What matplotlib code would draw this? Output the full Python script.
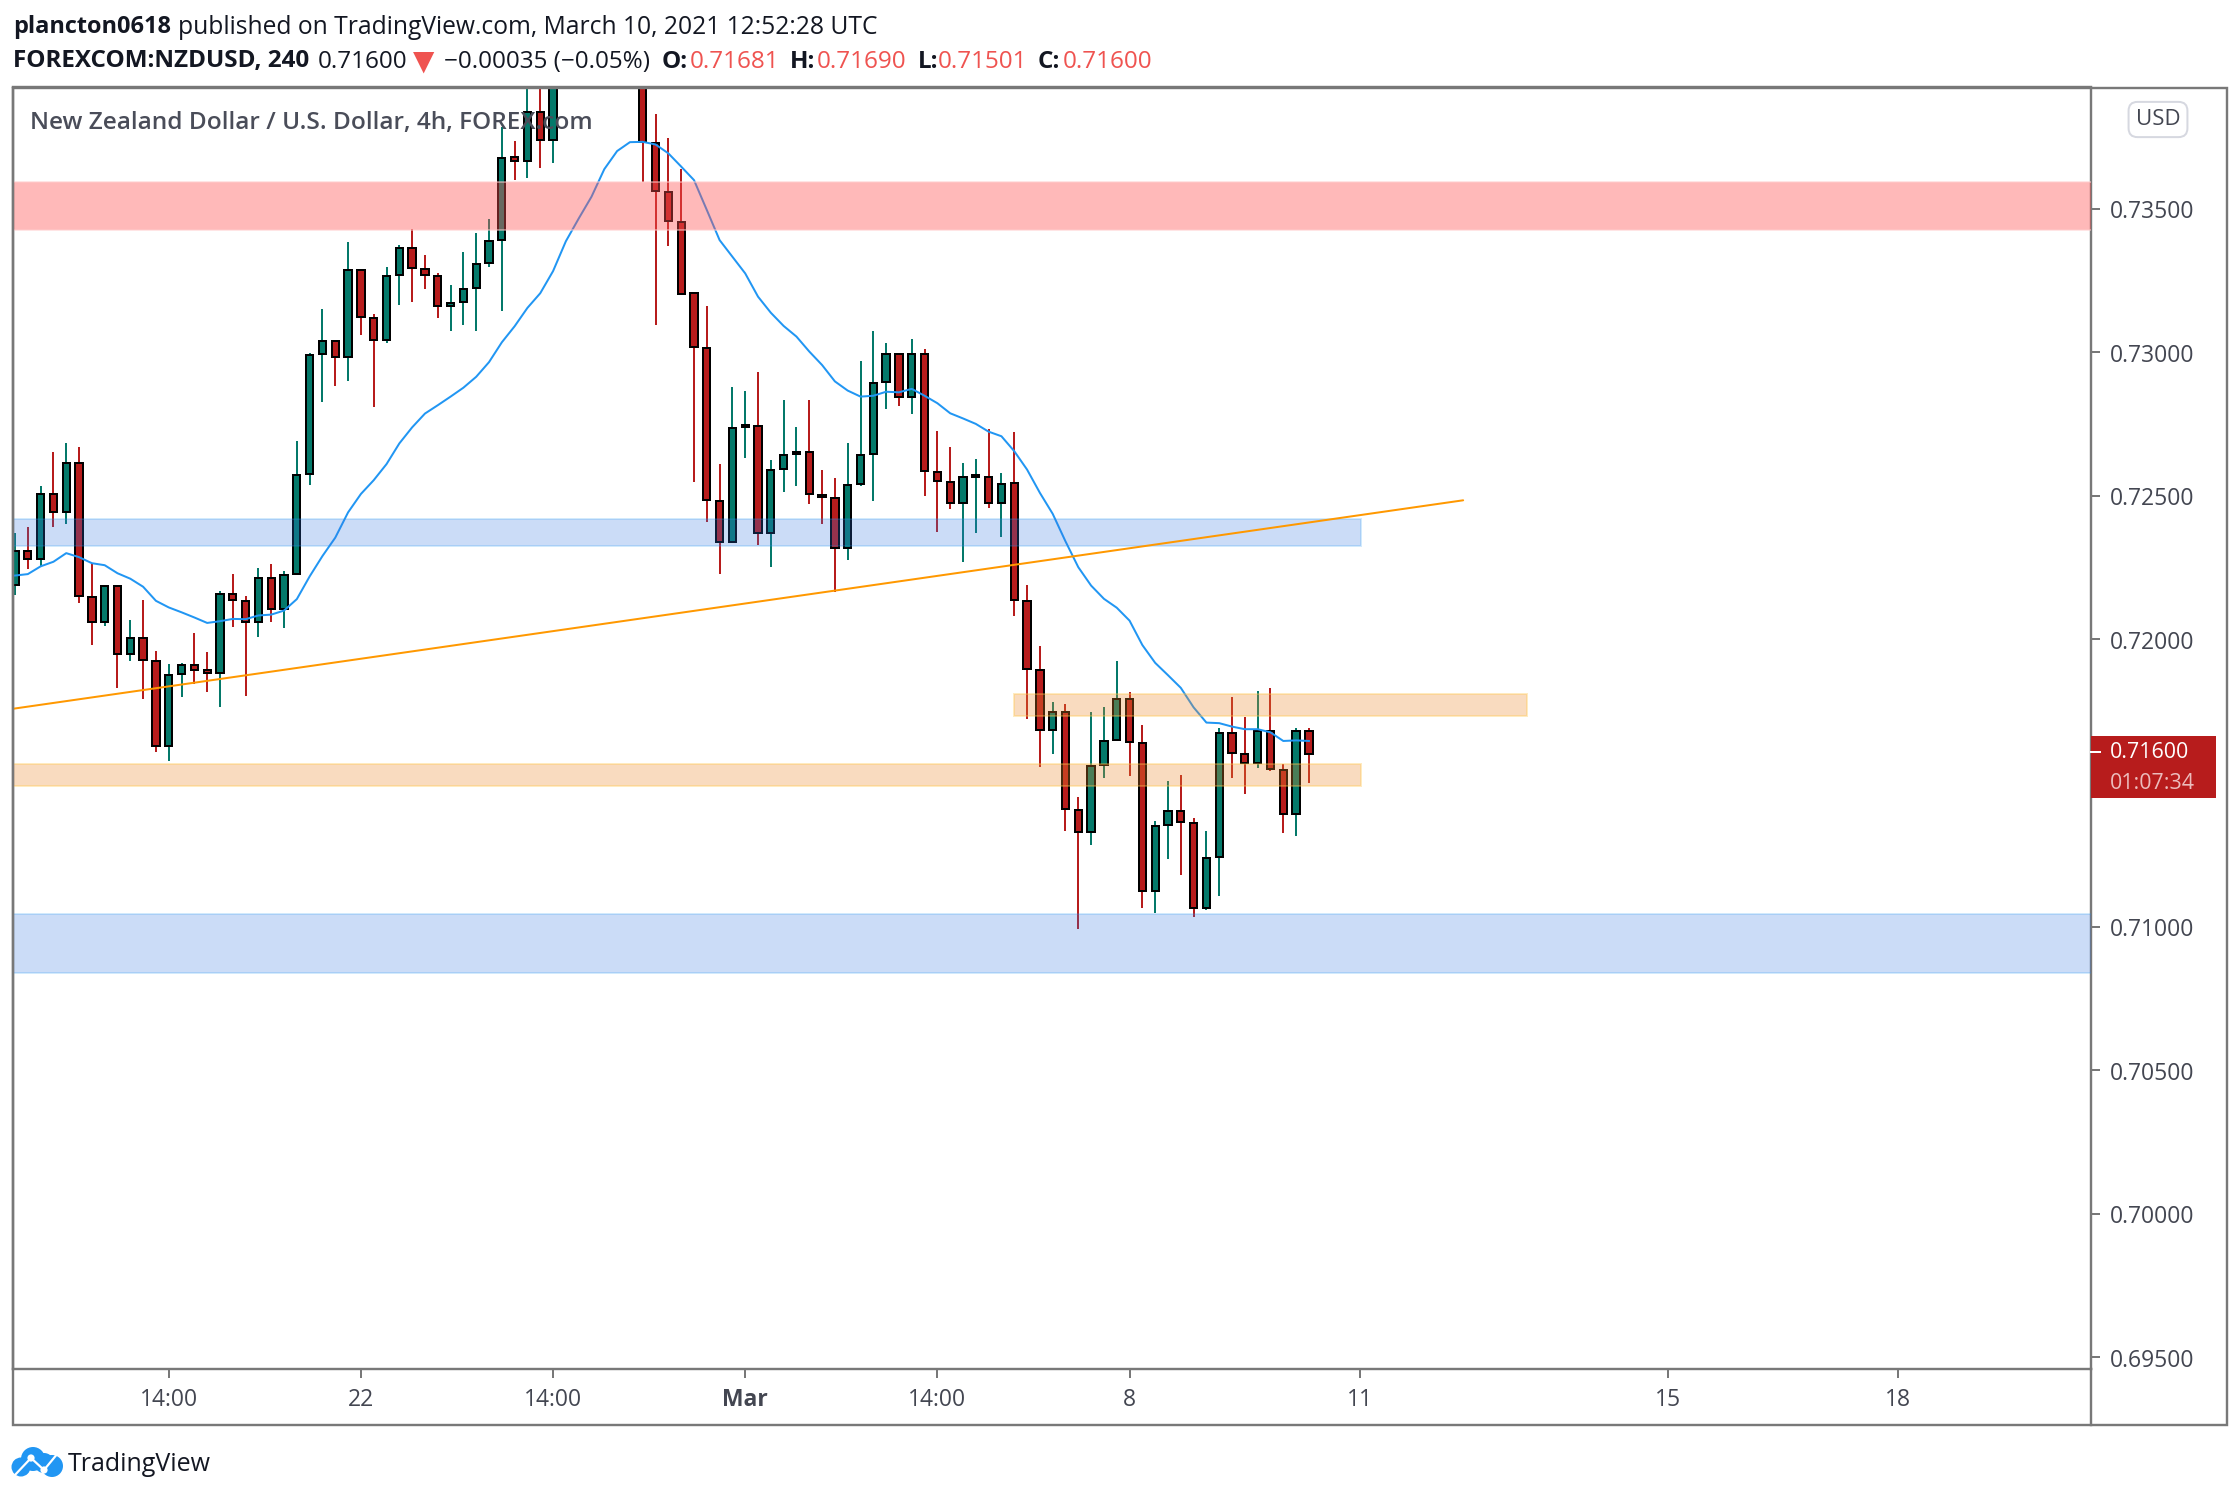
#!/usr/bin/python3

from matplotlib import pyplot as plt
from matplotlib.lines import Line2D
from matplotlib.patches import Circle, Rectangle
from matplotlib.transforms import IdentityTransform, ScaledTranslation
import numpy as np

W, H = 2240, 1498
nan = float('nan')

# OHLC per 4h candle. 43-48 run off the top of the chart.
opens = [.72190, .72306, .72278, .72506, .72442, .72615, .72148, .72060, .72186, .71948,
         .72004, .71924, .71629, .71880, .71912, .71892, .71883, .72158, .72134, .72060,
         .72214, .72105, .72228, .72575, .72994, .73039, .72983, .73286, .73119, .73042,
         .73270, .73363, .73290, .73266, .73160, .73175, .73222, .73310, .73390, .73678,
         .73665, .73836, .73739, nan, nan, nan, nan, nan, nan, .74000,
         .73728, .73558, .73453, .73205, .73015, .72483, .72338, .72738, .72744, .72369,
         .72592, .72644, .72653, .72504, .72493, .72317, .72540, .72644, .72895, .72995,
         .72844, .72995, .72584, .72549, .72473, .72564, .72566, .72473, .72543, .72134,
         .71893, .71684, .71747, .71406, .71329, .71562, .71648, .71793, .71640, .71122,
         .71352, .71403, .71361, .71063, .71241, .71674, .71602, .71568, .71679, .71545,
         .71391, .71681]
highs = [.72370, .72390, .72535, .72653, .72685, .72671, .72266, .72186, .72186, .72067,
         .72138, .71961, .71913, .71916, .72022, .71955, .72169, .72227, .72151, .72247,
         .72262, .72239, .72690, .72997, .73149, .73039, .73382, .73286, .73133, .73298,
         .73373, .73430, .73338, .73277, .73234, .73350, .73416, .73465, .73785, .73736,
         .73960, .73960, .74050, nan, nan, nan, nan, nan, nan, .74050,
         .73828, .73745, .73637, .73205, .73161, .72610, .72878, .72865, .72931, .72624,
         .72833, .72739, .72833, .72590, .72562, .72682, .72969, .73074, .73032, .72995,
         .73046, .73011, .72725, .72670, .72613, .72628, .72732, .72579, .72722, .72188,
         .71976, .71782, .71776, .71451, .71746, .71763, .71925, .71815, .71702, .71366,
         .71506, .71527, .71377, .71333, .71690, .71800, .71728, .71820, .71830, .71566,
         .71690, .71690]
lows = [.72155, .72246, .72255, .72390, .72402, .72127, .71979, .72047, .71830, .71923,
        .71792, .71608, .71576, .71798, .71843, .71817, .71763, .72044, .71803, .72007,
        .72060, .72038, .72228, .72538, .72826, .72882, .72901, .73058, .72810, .73031,
        .73165, .73175, .73218, .73117, .73072, .73095, .73075, .73298, .73144, .73600,
        .73606, .73641, .73660, nan, nan, nan, nan, nan, nan, .73593,
        .73095, .73370, .73202, .72549, .72410, .72227, .72338, .72631, .72328, .72253,
        .72513, .72534, .72471, .72401, .72166, .72276, .72534, .72482, .72802, .72812,
        .72784, .72499, .72375, .72454, .72269, .72370, .72457, .72356, .72081, .71724,
        .71556, .71600, .71333, .70992, .71283, .71518, .71648, .71524, .71065, .71047,
        .71235, .71179, .71033, .71058, .71106, .71518, .71461, .71552, .71541, .71326,
        .71315, .71501]
closes = [.72306, .72278, .72506, .72442, .72615, .72151, .72060, .72186, .71948, .72004,
          .71929, .71629, .71876, .71912, .71892, .71883, .72158, .72137, .72060, .72214,
          .72105, .72225, .72572, .72991, .73039, .72983, .73286, .73122, .73042, .73266,
          .73363, .73293, .73269, .73162, .73171, .73219, .73307, .73387, .73677, .73665,
          .73836, .73739, .73980, nan, nan, nan, nan, nan, nan, .73732,
          .73561, .73456, .73203, .73018, .72485, .72338, .72737, .72745, .72369, .72591,
          .72643, .72653, .72505, .72494, .72317, .72538, .72643, .72894, .72995, .72844,
          .72995, .72585, .72551, .72473, .72566, .72571, .72473, .72542, .72136, .71896,
          .71684, .71747, .71409, .71330, .71560, .71647, .71793, .71641, .71122, .71351,
          .71403, .71363, .71063, .71239, .71674, .71603, .71568, .71679, .71548, .71391,
          .71681, .71600]
ema = [.72222, .72227, .72254, .72270, .72300, .72286, .72265, .72258, .72230, .72211,
       .72183, .72134, .72111, .72094, .72076, .72057, .72063, .72071, .72070, .72083,
       .72086, .72100, .72140, .72219, .72290, .72354, .72442, .72506, .72554, .72610,
       .72682, .72738, .72786, .72815, .72845, .72876, .72914, .72965, .73034, .73090,
       .73154, .73205, .73282, .73386, .73465, .73541, .73637, .73700, .73731, .73732,
       .73723, .73692, .73646, .73599, .73495, .73390, .73332, .73274, .73193, .73137,
       .73091, .73054, .73002, .72955, .72898, .72866, .72845, .72848, .72862, .72860,
       .72872, .72848, .72822, .72787, .72769, .72750, .72723, .72707, .72655, .72591,
       .72510, .72437, .72341, .72251, .72187, .72141, .72110, .72065, .71980, .71918,
       .71875, .71831, .71763, .71710, .71708, .71696, .71687, .71687, .71676, .71646,
       .71648, .71646]

trend_x = [-0.18, 113.04]
trend_y = [.71758, .72484]

y_ticks = [.695, .700, .705, .710, .715, .720, .725, .730, .735]
x_ticks = [12, 27, 42, 57, 72, 87, 105, 129, 147]
x_labels = ['14:00', '22', '14:00', 'Mar', '14:00', '8', '11', '15', '18']

FONT = 'Open Sans'
GREY = '#787878'
TXT = '#434651'
UP = '#04796a'
DOWN = '#b71c1c'
px = 72 / 100  # points per pixel at dpi 100


def fx(x):
	return x / W


def fy(y):
	return 1 - y / H


fig = plt.figure(figsize=(W / 100, H / 100), dpi=100, facecolor='white')
plt.rcParams['font.family'] = [FONT, 'DejaVu Sans']

left, right, top, bottom = 12.7, 2091, 87.5, 1369
ax = fig.add_axes([fx(left), fy(bottom), fx(right - left), (bottom - top) / H])
ax.set_xlim(-0.18, 162.05)
ax.set_ylim(.735 - (bottom - 208.5) / 28720, .735 + (208.5 - top) / 28720)

# candles: wick first, body with black border on top
idx = np.arange(len(opens))
o, h, l, c = map(np.array, (opens, highs, lows, closes))
ok = ~np.isnan(o)
colors = np.array([UP if b else DOWN for b in c >= o])
ax.vlines(idx[ok], l[ok], h[ok], colors=colors[ok], linewidth=2 * px, zorder=2)
ax.bar(idx[ok], np.abs(c - o)[ok], bottom=np.minimum(o, c)[ok], width=0.57, color=colors[ok],
       edgecolor='black', linewidth=2 * px, zorder=3)

ax.plot(idx, ema, color='#2196f3', linewidth=2 * px, zorder=4)


def band(x0, x1, p0, p1, face, edge):
	# zones lie over the candles, which show through them
	ax.add_patch(Rectangle((x0, p0), x1 - x0, p1 - p0, facecolor=face, edgecolor=edge,
	                       linewidth=2 * px, zorder=5))


band(-3, 170, .73425, .73591, (1, .322, .322, .4), (1, .8, .8, .5))
band(-3, 105.07, .72326, .72419, (.2, .467, .89, .25), (.13, .59, .95, .2))
band(-3, 170, .70838, .71045, (.2, .467, .89, .25), (.13, .59, .95, .2))
band(78, 118, .71734, .71810, (.933, .541, .176, .3), (1, .78, .3, .35))
band(-3, 105.07, .71490, .71566, (.933, .541, .176, .3), (1, .78, .3, .35))

ax.plot(trend_x, trend_y, color='#ff9800', linewidth=2 * px, zorder=6, solid_capstyle='round')

ax.yaxis.tick_right()
ax.set_yticks(y_ticks)
ax.set_yticklabels(['%.5f' % t for t in y_ticks], fontsize=16.5, color=TXT)
ax.set_xticks(x_ticks)
ax.set_xticklabels(x_labels, fontsize=16.5, color=TXT)
ax.get_xticklabels()[3].set_fontweight('bold')
ax.tick_params(axis='y', length=9 * px, width=2 * px, color=GREY, pad=10 * px)
ax.tick_params(axis='x', length=9 * px, width=2 * px, color=GREY, pad=10.5 * px)
down = ScaledTranslation(0, -0.5 / 100, fig.dpi_scale_trans)
for t in ax.get_yticklabels():
	t.set_transform(t.get_transform() + down)
for s in ax.spines.values():
	s.set_color(GREY)
	s.set_linewidth(2.4 * px)

# frame round the price and time scales
fig.add_artist(Rectangle((fx(left), fy(1425)), fx(2226.7 - left), (1425 - top) / H, fill=False,
                         edgecolor=GREY, linewidth=2.4 * px, transform=fig.transFigure))
fig.add_artist(Line2D([fx(right)] * 2, [fy(bottom), fy(1425)], color=GREY, linewidth=2.4 * px))

# last price tag
p_last = closes[-1]
fig.add_artist(Rectangle((fx(right), fy(798)), fx(2216 - right), 62 / H, facecolor=DOWN,
                         edgecolor='none', transform=fig.transFigure, zorder=5))
fig.add_artist(Line2D([fx(right), fx(2100)], [fy(752)] * 2, color='white', linewidth=2 * px, zorder=6))
fig.text(fx(2110), fy(752), '%.5f' % p_last, fontsize=15.4, color='white', va='center', zorder=6)
fig.text(fx(2110), fy(784), '01:07:34', fontsize=15.4, color='#ecbcbc', va='center', zorder=6)

fig.text(fx(2158), fy(119.5), 'USD', fontsize=16, color=TXT, ha='center', va='center',
         bbox=dict(boxstyle='round,pad=0.32,rounding_size=0.4', facecolor='white', edgecolor='#d6d8e0',
                   linewidth=2 * px))

# chart title, over the candles
fig.text(fx(30), fy(122.5), 'New Zealand Dollar / U.S. Dollar, 4h, FOREX.com', fontsize=17.6, color='#4a4d59',
         fontweight='semibold', va='center', zorder=8)

# header lines
RED = '#ef5350'
DARK = '#131722'
fig.text(fx(13), fy(27), 'plancton0618', fontsize=16.9, fontweight='bold', color=DARK, va='center')
fig.text(fx(178), fy(27), 'published on TradingView.com, March 10, 2021 12:52:28 UTC', fontsize=17.7,
         color=DARK, va='center')
parts = [(13, 'FOREXCOM:NZDUSD, 240', 'bold', DARK), (318, '0.71600', 'normal', DARK),
         (444, '\u22120.00035 (\u22120.05%)', 'normal', DARK), (662, 'O:', 'bold', DARK),
         (690, '0.71681', 'normal', RED), (790, 'H:', 'bold', DARK), (817, '0.71690', 'normal', RED),
         (918, 'L:', 'bold', DARK), (938, '0.71501', 'normal', RED), (1038, 'C:', 'bold', DARK),
         (1063, '0.71600', 'normal', RED)]
for x, s, weight, col in parts:
	fig.text(fx(x), fy(61.5), s, fontsize=17.5, fontweight=weight, color=col, va='center')
fig.text(fx(423.5), fy(61.5), '\u25bc', fontsize=20, color=RED, ha='center', va='center', family='DejaVu Sans')

# TradingView logo, in pixels of the figure
logo = IdentityTransform()
for cx, cy, r in [(33, 1459, 12), (21, 1467, 9.5), (52, 1466, 11), (44, 1463, 10)]:
	fig.add_artist(Circle((cx, H - cy), r, facecolor='#2196f3', edgecolor='none', transform=logo))
fig.add_artist(Line2D([14, 31, 44, 58], [H - 1476, H - 1458, H - 1470, H - 1453], color='white',
                      linewidth=2.2 * px, transform=logo))
for cx, cy in [(31, 1458), (44, 1470)]:
	fig.add_artist(Circle((cx, H - cy), 3.6, facecolor='white', edgecolor='none', transform=logo))
fig.text(fx(68), fy(1464.5), 'TradingView', fontsize=18, color=DARK, va='center')

fig.savefig('out.png', dpi=100)
